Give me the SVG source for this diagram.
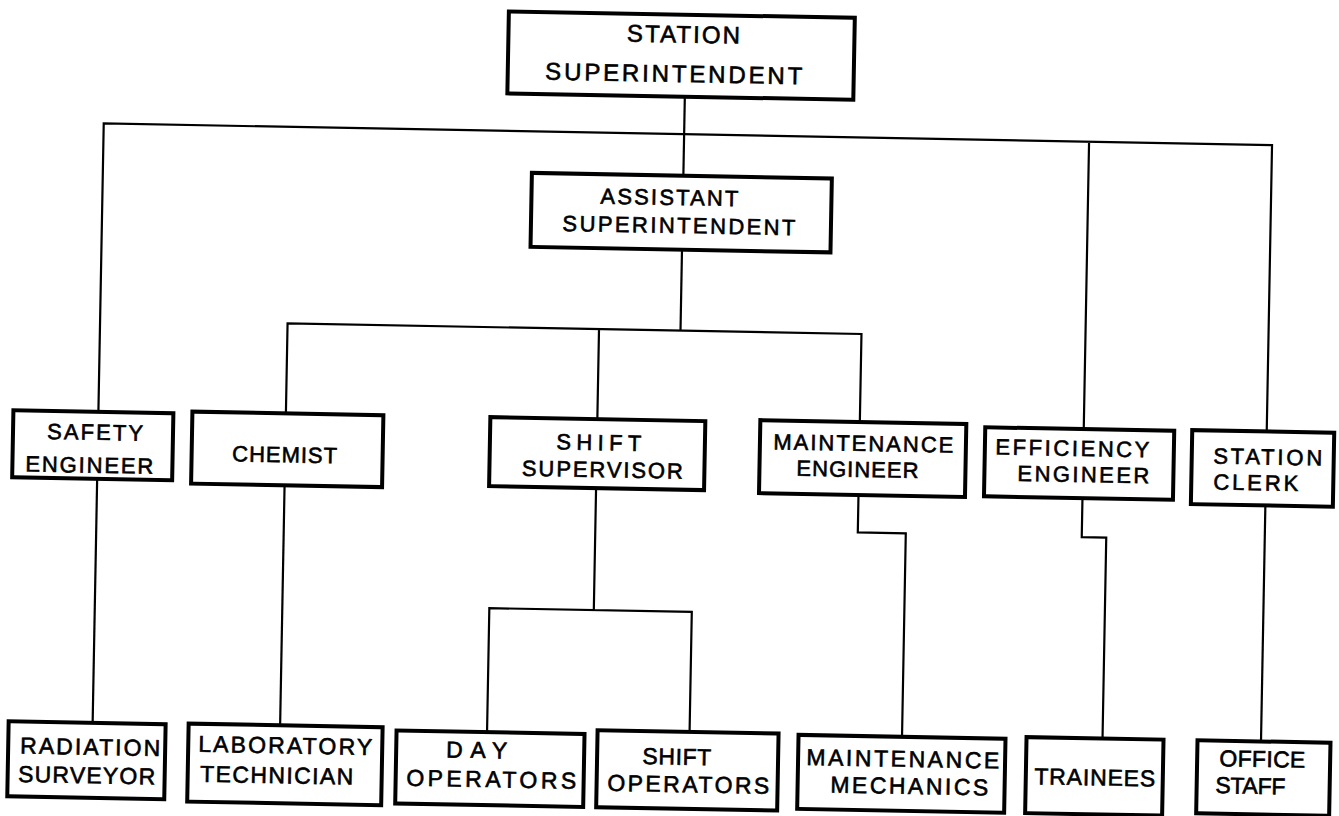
<svg xmlns="http://www.w3.org/2000/svg" width="1339" height="816" viewBox="0 0 1339 816">
<style>
.box{fill:#fff;stroke:#000;stroke-width:4}
.ln{fill:none;stroke:#000;stroke-width:2.2}
text{font-family:"Liberation Sans",Arial,sans-serif;font-size:22px;fill:#000;stroke:#000;stroke-width:0.6;text-anchor:middle}
.top text{font-size:24px}
.low text{font-size:23px}
</style>
<rect width="1339" height="816" fill="#fff"/>
<g transform="rotate(1.06)">
<g id="connectors" class="ln">
<path d="M686.5 84V163"/>
<path d="M106 410V121.5H1274.5V408M1091.5 121.5V409"/>
<path d="M686.5 237V318"/>
<path d="M293.5 408V318H867.5V406M605 318V408"/>
<path d="M106 477V721"/>
<path d="M293.5 480V720"/>
<path d="M605 477V599M500.5 723V599H703V719"/>
<path d="M867.5 479V516.5H915.5V720"/>
<path d="M1091.5 478V517H1116V718"/>
<path d="M1274.5 482V718"/>
</g>
<g class="top">
<g id="station-superintendent"><rect class="box" x="509" y="2" width="346" height="82"/><text x="684" y="30" textLength="113">STATION</text><text x="675" y="69.5" textLength="257">SUPERINTENDENT</text></g>
</g>
<g id="assistant-superintendent"><rect class="box" x="535" y="163" width="300" height="74"/><text x="673" y="192.5" textLength="138">ASSISTANT</text><text x="683" y="220.5" textLength="233">SUPERINTENDENT</text></g>
<g id="safety-engineer"><rect class="box" x="21" y="410" width="160" height="67"/><text x="103" y="438" textLength="96">SAFETY</text><text x="98" y="471" textLength="128">ENGINEER</text></g>
<g id="chemist"><rect class="box" x="200" y="408" width="191" height="72"/><text x="293" y="457" textLength="105">CHEMIST</text></g>
<g id="shift-supervisor"><rect class="box" x="498" y="408" width="215" height="69"/><text x="607" y="439" textLength="85">SHIFT</text><text x="611" y="466" textLength="161">SUPERVISOR</text></g>
<g id="maintenance-engineer"><rect class="box" x="768" y="406" width="206" height="73"/><text x="871.4" y="435" textLength="180">MAINTENANCE</text><text x="866" y="461" textLength="122">ENGINEER</text></g>
<g id="efficiency-engineer"><rect class="box" x="993" y="409" width="189" height="69"/><text x="1080.5" y="436" textLength="154">EFFICIENCY</text><text x="1092" y="462" textLength="132">ENGINEER</text></g>
<g id="station-clerk"><rect class="box" x="1200" y="408" width="142" height="74"/><text x="1276" y="441" textLength="109">STATION</text><text x="1264.5" y="467" textLength="85">CLERK</text></g>
<g class="low">
<g id="radiation-surveyor"><rect class="box" x="22" y="721" width="157" height="75"/><text x="104" y="753" textLength="140">RADIATION</text><text x="101" y="781.5" textLength="137">SURVEYOR</text></g>
<g id="laboratory-technician"><rect class="box" x="202" y="720" width="194" height="78"/><text x="299" y="748" textLength="174">LABORATORY</text><text x="291" y="778" textLength="153">TECHNICIAN</text></g>
<g id="day-operators"><rect class="box" x="410" y="723" width="188" height="73"/><text x="490.5" y="749" textLength="61">DAY</text><text x="505.6" y="778" textLength="170">OPERATORS</text></g>
<g id="shift-operators"><rect class="box" x="611" y="719" width="181" height="77"/><text x="690.7" y="752" textLength="69">SHIFT</text><text x="702.7" y="779.5" textLength="162">OPERATORS</text></g>
<g id="maintenance-mechanics"><rect class="box" x="812" y="720" width="207" height="74"/><text x="916.7" y="750" textLength="193">MAINTENANCE</text><text x="923.7" y="777" textLength="158">MECHANICS</text></g>
<g id="trainees"><rect class="box" x="1040" y="718" width="137" height="76"/><text x="1109" y="765" textLength="121">TRAINEES</text></g>
<g id="office-staff"><rect class="box" x="1211" y="718" width="133" height="73"/><text x="1276.2" y="743.5" textLength="86">OFFICE</text><text x="1264.7" y="770.5" textLength="70">STAFF</text></g>
</g>
</g>
</svg>
